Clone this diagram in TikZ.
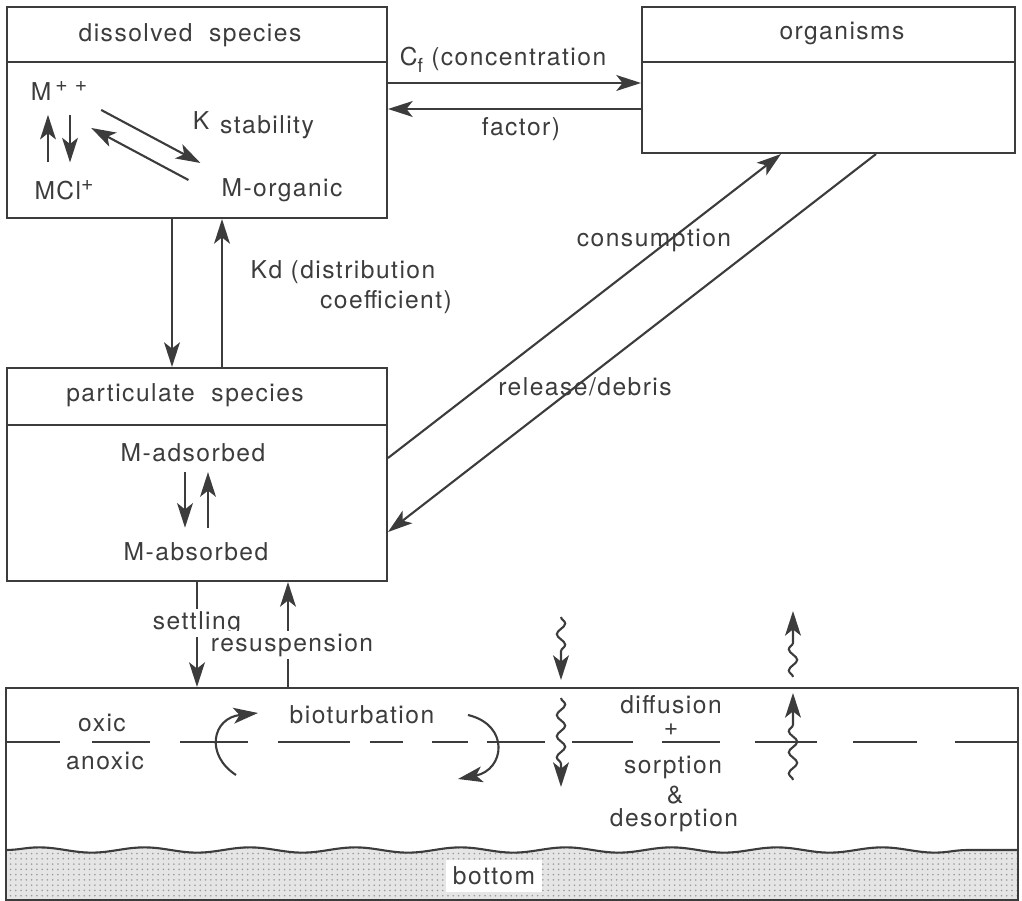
\documentclass[tikz,border=0pt]{standalone}
\usepackage{fontspec}
\setmainfont{TeX Gyre Heros}[LetterSpace=6]
\usetikzlibrary{arrows.meta,decorations.pathmorphing,patterns}
\definecolor{ink}{HTML}{3C3C3C}
\newcommand{\charge}[1]{\raisebox{0.36em}{\fontsize{12}{12}\selectfont #1}}
\newcommand{\lowf}{\raisebox{-0.3em}{\fontsize{11}{11}\selectfont f}}

\begin{document}
\begin{tikzpicture}[x=0.02cm, y=-0.02cm,
        every node/.style={font=\fontsize{14}{16}\selectfont, text=ink, inner sep=1pt},
        compartment/.style={draw=ink, line width=1.2pt, minimum width=7.6cm},
        flow/.style={draw=ink, line width=1.2pt, -{Stealth[length=14pt,width=9pt,inset=3.5pt]}},
        wavy/.style={flow, decorate, decoration={snake, amplitude=2.4pt, segment length=12pt, post length=13pt}},
        tag/.style={fill=white, inner sep=1.5pt},
        divider/.style={draw=ink, line width=1.2pt},
        tight/.style={inner sep=0pt}
    ]
    \useasboundingbox (0,0) rectangle (1022,901);

    % Bottom
    \fill[black!10] (6,900) -- (6,850) decorate[decoration={snake, amplitude=1.5pt, segment length=60pt}] {-- (1018,850)} -- (1018,900) -- cycle;
    \fill[pattern=dots, pattern color=black!40] (6,900) -- (6,850) decorate[decoration={snake, amplitude=1.5pt, segment length=60pt}] {-- (1018,850)} -- (1018,900) -- cycle;
    \draw[ink, line width=1.2pt, decorate, decoration={snake, amplitude=1.5pt, segment length=60pt}] (6,850) -- (1018,850);

    % Compartments
    \node[compartment, minimum height=4.22cm] (dissolved) at (197,112.5) {};
    \node[compartment, minimum width=7.46cm, minimum height=2.92cm] (organisms) at (828.5,80) {};
    \node[compartment, minimum height=4.26cm] (particulate) at (197,474.5) {};
    \node[compartment, minimum width=20.24cm, minimum height=4.24cm] (sediment) at (512,794) {};
    \draw[divider] (dissolved.west |- 0,62) -- (dissolved.east |- 0,62);
    \draw[divider] (organisms.west |- 0,62) -- (organisms.east |- 0,62);
    \draw[divider] (particulate.west |- 0,425) -- (particulate.east |- 0,425);

    % oxic / anoxic boundary
    \foreach \a/\b in {7/60, 92/150, 180/248, 278/350, 370/403, 432/468, 487/545, 572/633, 662/720, 755/817, 853/917, 955/1018}
        \draw[divider] (\a,742) -- (\b,742);

    % Titles
    \node (dissolvedtitle) at (190,35) {dissolved~~species};
    \node (organismstitle) at (842,33) {organisms};
    \node (particulatetitle) at (185,395) {particulate~~species};

    % Dissolved species
    \node (mpp) at (59,91) {M\,\charge{+\,\,+}};
    \node (mcl) at (64,190) {MCl\charge{+}};
    \node (k) at (201,121) {K};
    \node (stability) at (267,127) {stability};
    \node (morg) at (282,190) {M-organic};
    \draw[flow, shorten <=9pt, shorten >=7pt] (mcl.north -| 48,0) -- (mpp.south -| 48,0);
    \draw[flow, shorten <=7pt, shorten >=9pt] (mpp.south -| 70,0) -- (mcl.north -| 70,0);
    \draw[flow] ([shift={(12,19)}]mpp.east) -- ([shift={(-19,-27)}]morg.west);
    \draw[flow] ([shift={(-31,-10)}]morg.west) -- ([shift={(2,37)}]mpp.east);

    % Particulate species
    \node (madsorbed) at (193,453) {M-adsorbed};
    \node (mabsorbed) at (196,552) {M-absorbed};
    \draw[flow, shorten <=4.5pt, shorten >=7.4pt] (madsorbed.south -| 185,0) -- (mabsorbed.north -| 185,0);
    \draw[flow, shorten <=7.4pt, shorten >=4.5pt] (mabsorbed.north -| 208,0) -- (madsorbed.south -| 208,0);

    % Exchanges
    \draw[flow] (dissolved.east |- 0,83) -- (organisms.west |- 0,83);
    \draw[flow] (organisms.west |- 0,109) -- (dissolved.east |- 0,109);
    \draw[flow] (dissolved.south -| 172,0) -- (particulate.north -| 172,0);
    \draw[flow] (particulate.north -| 222,0) -- (dissolved.south -| 222,0);
    \draw[flow] (particulate.east |- 0,458) -- (organisms.south -| 781,0);
    \draw[flow] (organisms.south -| 876,0) -- (particulate.east |- 0,532);
    \draw[flow] (particulate.south -| 197,0) -- (sediment.north -| 197,0);
    \draw[flow] (sediment.north -| 288,0) -- (particulate.south -| 288,0);

    \node (cf) at (503,60) {C\lowf{} (concentration};
    \node (factor) at (521,129) {factor)};
    \node (kd) at (343,272) {Kd (distribution};
    \node (coefficient) at (386,302) {coefficient)};
    \node (consumption) at (654,240) {consumption};
    \node (release) at (585,387) {release/debris};
    \node[tag] (settling) at (197,623) {settling};
    \node[tag] (resuspension) at (292,645) {resuspension};

    % Sediment
    \node (oxic) at (102,723) {oxic};
    \node (anoxic) at (105,761) {anoxic};
    \node (bioturbation) at (362,715) {bioturbation};
    \draw[flow] (236,775) .. controls (205,755) and (212,718) .. (258,713);
    \draw[flow] (468,715) .. controls (510,725) and (505,770) .. (458,779);

    \draw[wavy] (561,617) -- (561,680);
    \draw[wavy] (561,698) -- (561,787);
    \draw[wavy] (793,677) -- (793,611);
    \draw[wavy] (793,780) -- (793,693);
    \node[tight] (diffusion) at (671,705) {diffusion};
    \node[tight] (plus) at (671,730) {+};
    \node[tight] (sorption) at (673,767) {sorption};
    \node[tight] (amp) at (675,795) {\&};
    \node[tight] (desorption) at (674,820) {desorption};
    \node[tag, inner sep=4pt] (bottom) at (494,876) {bottom};
\end{tikzpicture}
\end{document}
